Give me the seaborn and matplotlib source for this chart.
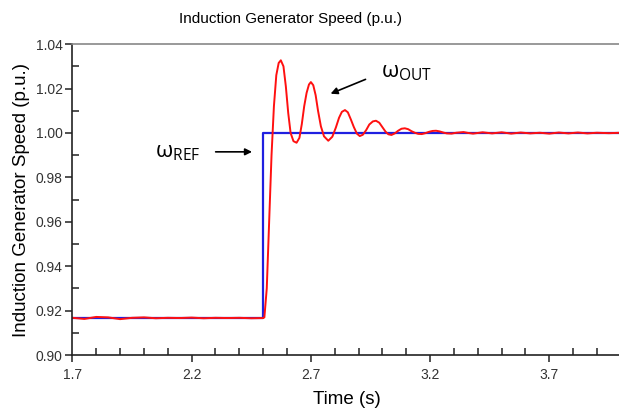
import pandas as pd
import seaborn as sns
import matplotlib.pyplot as plt
from matplotlib.ticker import MultipleLocator, FixedLocator

# Reference speed (blue): step at t = 2.5 s
ref_time = [1.70, 2.50, 2.50, 4.00]
ref_speed = [0.9165, 0.9165, 1.000, 1.000]

# Output speed (red)
out_time = [1.70, 1.75, 1.80, 1.85, 1.90, 1.95, 2.00, 2.05, 2.10, 2.15, 2.20,
            2.25, 2.30, 2.35, 2.40, 2.45, 2.50,
            2.505, 2.515, 2.525, 2.535, 2.545, 2.555, 2.565, 2.574, 2.585, 2.595,
            2.605, 2.615, 2.627, 2.640, 2.652, 2.662, 2.672, 2.682, 2.692, 2.700,
            2.710, 2.720, 2.730, 2.742, 2.755, 2.773, 2.790, 2.805, 2.818, 2.830,
            2.843, 2.855, 2.868, 2.880, 2.893, 2.905, 2.918, 2.932, 2.945, 2.960,
            2.973, 2.987, 3.000, 3.013, 3.025, 3.038, 3.052, 3.066, 3.080, 3.094,
            3.108, 3.122, 3.136, 3.150, 3.165, 3.180, 3.195, 3.210, 3.225, 3.240,
            3.255, 3.270, 3.290, 3.310, 3.340, 3.360, 3.380, 3.420, 3.460, 3.500,
            3.540, 3.580, 3.620, 3.660, 3.700, 3.740, 3.780, 3.820, 3.860, 3.900,
            3.950, 4.000]
out_speed = [0.9168, 0.9163, 0.9172, 0.9170, 0.9162, 0.9168, 0.9170, 0.9166,
             0.9168, 0.9167, 0.9169, 0.9166, 0.9168, 0.9167, 0.9168, 0.9166, 0.9167,
             0.917, 0.930, 0.960, 0.990, 1.012, 1.026, 1.0315, 1.0327, 1.030, 1.021,
             1.009, 1.000, 0.9963, 0.9956, 0.9978, 1.004, 1.012, 1.018, 1.0218, 1.0229,
             1.0215, 1.017, 1.010, 1.003, 0.9985, 0.9965, 0.9983, 1.0025, 1.0068, 1.0095,
             1.0103, 1.0093, 1.006, 1.0027, 0.9997, 0.9986, 0.9992, 1.0013, 1.0038, 1.0052,
             1.0055, 1.0046, 1.0026, 1.0006, 0.9994, 0.9991, 0.9998, 1.001, 1.0019, 1.0021,
             1.0017, 1.0008, 1.0001, 0.9996, 0.9995, 0.9999, 1.0005, 1.0009, 1.0010, 1.0007,
             1.0002, 0.9998, 0.9997, 1.0001, 1.0004, 1.0000, 0.9997, 1.0003, 0.9998, 1.0003,
             0.9997, 1.0002, 0.9998, 1.0001, 0.9997, 1.0002, 0.9998, 1.0002, 0.9998, 1.0001,
             0.9999, 1.0001]

x_ticks = [1.7, 2.2, 2.7, 3.2, 3.7]
x_minor = [1.8, 1.9, 2.0, 2.1, 2.3, 2.4, 2.5, 2.6, 2.8, 2.9, 3.0, 3.1,
           3.3, 3.4, 3.5, 3.6, 3.8, 3.9]

ref_df = pd.DataFrame({'Time': ref_time, 'Speed': ref_speed})
out_df = pd.DataFrame({'Time': out_time, 'Speed': out_speed})

plt.rcParams['font.family'] = ['Liberation Sans', 'DejaVu Sans']

fig = plt.figure(figsize=(6.19, 4.12), dpi=100)
ax = fig.add_axes([0.117, 0.138, 0.886, 0.755])

sns.lineplot(data=ref_df, x='Time', y='Speed', color='#1f1fe0', linewidth=1.6,
             sort=False, estimator=None, ax=ax)
sns.lineplot(data=out_df, x='Time', y='Speed', color='#ff1010', linewidth=1.4,
             sort=False, estimator=None, ax=ax)

ax.set_xlim(1.7, 4.0)
ax.set_ylim(0.90, 1.04)
ax.xaxis.set_major_locator(FixedLocator(x_ticks))
ax.xaxis.set_minor_locator(FixedLocator(x_minor))
ax.yaxis.set_major_locator(MultipleLocator(0.02))
ax.yaxis.set_minor_locator(MultipleLocator(0.01))
ax.xaxis.set_major_formatter(plt.FuncFormatter(lambda v, p: f'{v:.1f}'))
ax.yaxis.set_major_formatter(plt.FuncFormatter(lambda v, p: f'{v:.2f}'))

ax.tick_params(which='major', direction='out', length=5, width=1.1,
               color='#222222', labelsize=10, labelcolor='#333333', pad=2)
ax.tick_params(axis='x', which='major', pad=4)
ax.tick_params(which='minor', direction='in', length=5, width=1.1, color='#222222')

for side in ['left', 'bottom']:
    ax.spines[side].set_color('#222222')
    ax.spines[side].set_linewidth(1.2)
ax.spines['top'].set_color('#888888')
ax.spines['top'].set_linewidth(1.2)
ax.spines['right'].set_visible(False)

ax.set_xlabel('Time (s)', fontsize=13.5, labelpad=7)
ax.set_ylabel('Induction Generator Speed (p.u.)', fontsize=13.5, labelpad=4)
fig.text(0.47, 0.955, 'Induction Generator Speed (p.u.)', fontsize=11,
         ha='center', va='center')

# Annotations
ax.annotate('', xy=(2.465, 0.9915), xytext=(2.289, 0.9915),
            arrowprops=dict(arrowstyle='-|>', color='black', lw=1.2))
ax.text(2.045, 0.9912, r'$\mathregular{ω_{REF}}$', fontsize=16,
        family=['Open Sans', 'DejaVu Sans'], ha='left', va='center')
ax.annotate('', xy=(2.772, 1.0172), xytext=(2.940, 1.0246),
            arrowprops=dict(arrowstyle='-|>', color='black', lw=1.2))
ax.text(2.995, 1.0272, r'$\mathregular{ω_{OUT}}$', fontsize=16,
        family=['Open Sans', 'DejaVu Sans'], ha='left', va='center')

plt.savefig('out.png', dpi=100)
